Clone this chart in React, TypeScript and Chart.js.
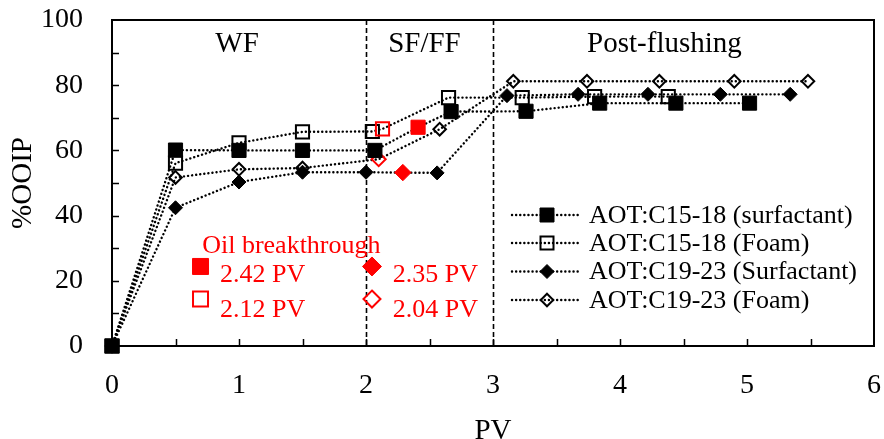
import React, { useEffect, useRef } from 'react';
import { Chart, registerables } from 'chart.js';

Chart.register(...registerables);

// ---------- data ----------
const seriesNames = [
  'AOT:C15-18 (surfactant)',
  'AOT:C15-18 (Foam)',
  'AOT:C19-23 (Surfactant)',
  'AOT:C19-23 (Foam)',
];

const pvC15Surf = [0, 0.5, 1, 1.5, 2.07, 2.41, 2.67, 3.26, 3.84, 4.44, 5.02];
const ooipC15Surf = [0, 60.1, 60, 60, 60, 67.1, 71.9, 72, 74.5, 74.5, 74.5];

const pvC15Foam = [0, 0.5, 1, 1.5, 2.05, 2.13, 2.65, 3.23, 3.8, 4.38];
const ooipC15Foam = [0, 56.1, 62.3, 65.7, 65.8, 66.6, 76.2, 76.2, 76.5, 76.5];

const pvC19Surf = [0, 0.5, 1, 1.5, 2.0, 2.29, 2.56, 3.11, 3.67, 4.22, 4.79, 5.34];
const ooipC19Surf = [0, 42.4, 50.3, 53.3, 53.3, 53.2, 53.1, 76.8, 77.2, 77.2, 77.2, 77.2];

const pvC19Foam = [0, 0.5, 1, 1.5, 2.1, 2.58, 3.16, 3.74, 4.31, 4.9, 5.48];
const ooipC19Foam = [0, 51.7, 54.2, 54.6, 57.3, 66.5, 81.2, 81.2, 81.2, 81.2, 81.2];

// index of the oil-breakthrough point in each series
const breakthroughIndex = [5, 5, 5, 4];
const breakthroughLabels = ['2.42 PV', '2.12 PV', '2.35 PV', '2.04 PV'];
const breakthroughTitle = 'Oil breakthrough';

const phaseLabels = ['WF', 'SF/FF', 'Post-flushing'];
const phaseBoundaries = [2, 3];

const xTitle = 'PV';
const yTitle = '%OOIP';

// ---------- styling ----------
const FONT = '"Liberation Serif", "Times New Roman", serif';
const RED = '#ff0000';
const BLACK = '#000000';
const DOT_DASH = [0.1, 4.0];
const DOT_WIDTH = 2.4;

type Shape = 'square' | 'diamond';
const seriesShape: Shape[] = ['square', 'square', 'diamond', 'diamond'];
const seriesFilled = [true, false, true, false];

function drawMarker(
  ctx: CanvasRenderingContext2D,
  shape: Shape,
  filled: boolean,
  x: number,
  y: number,
  size: number,
  color: string,
  lw: number
) {
  ctx.save();
  ctx.setLineDash([]);
  ctx.beginPath();
  if (shape === 'square') {
    ctx.rect(x - size / 2, y - size / 2, size, size);
  } else {
    ctx.moveTo(x, y - size / 2);
    ctx.lineTo(x + size / 2, y);
    ctx.lineTo(x, y + size / 2);
    ctx.lineTo(x - size / 2, y);
    ctx.closePath();
  }
  if (filled) {
    ctx.fillStyle = color;
    ctx.fill();
  }
  ctx.strokeStyle = color;
  ctx.lineWidth = lw;
  ctx.stroke();
  ctx.restore();
}

const decorPlugin = {
  id: 'decor',
  beforeDatasetsDraw(chart: any) {
    const { ctx, chartArea } = chart;
    const xs = chart.scales.x;
    const ys = chart.scales.y;
    const { left, right, top, bottom } = chartArea;
    ctx.save();
    // frame
    ctx.strokeStyle = BLACK;
    ctx.lineWidth = 2;
    ctx.setLineDash([]);
    ctx.strokeRect(left, top, right - left, bottom - top);
    // inward ticks
    ctx.lineWidth = 1.5;
    ctx.beginPath();
    for (let v = 10; v < 100; v += 10) {
      const py = Math.round(ys.getPixelForValue(v)) + 0.5;
      ctx.moveTo(left, py);
      ctx.lineTo(left + 7, py);
    }
    for (let v = 0.5; v < 6; v += 0.5) {
      const px = Math.round(xs.getPixelForValue(v)) + 0.5;
      ctx.moveTo(px, bottom);
      ctx.lineTo(px, bottom - 7);
    }
    ctx.stroke();
    // phase boundaries
    ctx.lineWidth = 1.6;
    ctx.setLineDash([5, 3]);
    ctx.beginPath();
    phaseBoundaries.forEach((b) => {
      const px = Math.round(xs.getPixelForValue(b)) + 0.5;
      ctx.moveTo(px, top);
      ctx.lineTo(px, bottom);
    });
    ctx.stroke();
    ctx.setLineDash([]);
    // phase labels
    const phaseX = [0.985, 2.46, 4.35];
    ctx.fillStyle = BLACK;
    ctx.font = `29px ${FONT}`;
    ctx.textAlign = 'center';
    ctx.textBaseline = 'alphabetic';
    phaseLabels.forEach((t, i) => {
      ctx.fillText(t, xs.getPixelForValue(phaseX[i]), ys.getPixelForValue(90.2));
    });
    ctx.restore();
  },
  afterDatasetsDraw(chart: any) {
    const { ctx, chartArea } = chart;
    const xs = chart.scales.x;
    const ys = chart.scales.y;
    ctx.save();
    // ----- legend -----
    const rowsY = [131, 103, 74.5, 46].map((d) => chartArea.bottom - d);
    const lineX0 = chartArea.right - 362;
    const lineX1 = chartArea.right - 294;
    const markX = chartArea.right - 327;
    const textX = chartArea.right - 285;
    ctx.font = `26px ${FONT}`;
    ctx.textAlign = 'left';
    ctx.textBaseline = 'middle';
    seriesNames.forEach((name, i) => {
      const y = rowsY[i];
      ctx.save();
      ctx.strokeStyle = BLACK;
      ctx.lineWidth = DOT_WIDTH;
      ctx.lineCap = 'round';
      ctx.setLineDash(DOT_DASH);
      ctx.beginPath();
      ctx.moveTo(lineX0, y);
      ctx.lineTo(lineX1, y);
      ctx.stroke();
      ctx.restore();
      const filled = seriesFilled[i];
      const shape = seriesShape[i];
      const size = shape === 'square' ? (filled ? 14 : 13) : filled ? 14 : 12.5;
      drawMarker(ctx, shape, filled, markX, y, size, BLACK, filled ? 1 : 2);
      ctx.fillStyle = BLACK;
      ctx.fillText(name, textX, y + 1);
    });
    // ----- breakthrough key -----
    ctx.fillStyle = RED;
    ctx.font = `26px ${FONT}`;
    ctx.textAlign = 'left';
    ctx.textBaseline = 'alphabetic';
    ctx.fillText(breakthroughTitle, xs.getPixelForValue(0.71), ys.getPixelForValue(28.5));
    const keyMarkX = [0.697, 0.697, 2.047, 2.047];
    const keyMarkY = [24.4, 14.4, 24.4, 14.4];
    const keyTextX = [0.85, 0.85, 2.21, 2.21];
    const keyTextY = [19.6, 8.9, 19.6, 8.9];
    breakthroughLabels.forEach((lab, i) => {
      const filled = seriesFilled[i];
      const shape = seriesShape[i];
      const size = shape === 'square' ? (filled ? 16 : 15) : filled ? 19 : 17;
      drawMarker(
        ctx,
        shape,
        filled,
        xs.getPixelForValue(keyMarkX[i]),
        ys.getPixelForValue(keyMarkY[i]),
        size,
        RED,
        filled ? 1 : 2
      );
      ctx.fillStyle = RED;
      ctx.fillText(lab, xs.getPixelForValue(keyTextX[i]), ys.getPixelForValue(keyTextY[i]));
    });
    ctx.restore();
  },
};

function makeDataset(i: number, xs: number[], ys: number[]) {
  const filled = seriesFilled[i];
  const shape = seriesShape[i];
  const bi = breakthroughIndex[i];
  const colors = xs.map((_, k) => (k === bi ? RED : BLACK));
  let radius: number;
  let redRadius: number;
  if (shape === 'square') {
    radius = filled ? 10 : 9.3;
    redRadius = radius;
  } else {
    radius = filled ? 7 : 6.3;
    redRadius = filled ? 8.2 : 7;
  }
  const radii = xs.map((_, k) => (k === bi ? redRadius : radius));
  return {
    label: seriesNames[i],
    data: xs.map((x, k) => ({ x, y: ys[k] })),
    borderColor: BLACK,
    borderWidth: DOT_WIDTH,
    borderDash: DOT_DASH,
    borderCapStyle: 'round' as const,
    tension: 0,
    fill: false,
    pointStyle: shape === 'square' ? 'rect' : 'rectRot',
    pointRadius: radii,
    pointHoverRadius: radii,
    pointBackgroundColor: filled ? colors : 'rgba(0,0,0,0)',
    pointBorderColor: colors,
    pointBorderWidth: filled ? 1 : 2,
    clip: false as any,
  };
}

const zeroPad = (s: any) => {
  s.paddingLeft = 0;
  s.paddingRight = 0;
  s.paddingTop = 0;
  s.paddingBottom = 0;
};

export default function App() {
  const ref = useRef<HTMLCanvasElement | null>(null);
  useEffect(() => {
    document.body.style.margin = '0';
    if (!ref.current) return;
    const chart = new Chart(ref.current, {
      type: 'line',
      data: {
        datasets: [
          makeDataset(0, pvC15Surf, ooipC15Surf),
          makeDataset(1, pvC15Foam, ooipC15Foam),
          makeDataset(2, pvC19Surf, ooipC19Surf),
          makeDataset(3, pvC19Foam, ooipC19Foam),
        ] as any,
      },
      options: {
        responsive: false,
        animation: false,
        layout: { padding: { left: 0, right: 10, top: 20, bottom: 0 }, autoPadding: false },
        plugins: { legend: { display: false }, tooltip: { enabled: false } },
        scales: {
          x: {
            type: 'linear',
            min: 0,
            max: 6,
            ticks: { stepSize: 1, color: BLACK, font: { family: FONT, size: 28 }, padding: 23 },
            grid: { display: false, drawTicks: false },
            border: { display: false },
            title: {
              display: true,
              text: xTitle,
              color: BLACK,
              font: { family: FONT, size: 29, lineHeight: 0.5 },
              padding: 0,
            },
            afterFit: (s: any) => {
              s.height = 93;
              zeroPad(s);
            },
          },
          y: {
            type: 'linear',
            min: 0,
            max: 100,
            ticks: { stepSize: 20, color: BLACK, font: { family: FONT, size: 28 }, padding: 29 },
            grid: { display: false, drawTicks: false },
            border: { display: false },
            title: {
              display: true,
              text: yTitle,
              color: BLACK,
              font: { family: FONT, size: 29 },
              padding: { top: 6, bottom: 0 },
            },
            afterFit: (s: any) => {
              s.width = 112;
              zeroPad(s);
            },
          },
        },
      },
      plugins: [decorPlugin],
    });
    return () => chart.destroy();
  }, []);
  return (
    <div style={{ width: 884, height: 439 }}>
      <canvas ref={ref} width={884} height={439} style={{ display: 'block' }} />
    </div>
  );
}
